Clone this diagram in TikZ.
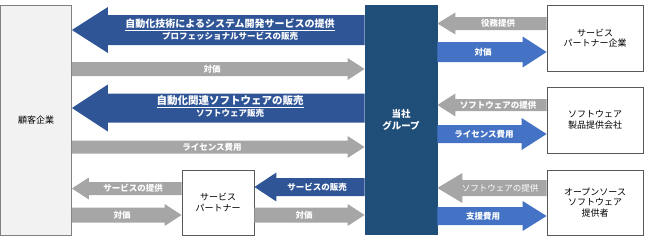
\documentclass[tikz,border=0pt]{standalone}
\usepackage{fontspec}
\newfontfamily\jpfont{Noto Sans CJK JP}
\usetikzlibrary{calc}
\definecolor{navyblock}{RGB}{31,78,121}
\definecolor{darkarrow}{RGB}{47,85,151}
\definecolor{lightarrow}{RGB}{68,114,196}
\definecolor{grayarrow}{RGB}{166,166,166}
\definecolor{boxline}{RGB}{89,89,89}
\definecolor{custfill}{RGB}{242,242,242}

% horizontal block arrow: style, from, to, y (from top), half body, half head, head length
\newcommand{\blockarrow}[7]{%
  \fill[#1] let \p1=(#2), \p2=(#3), \n1={sign(\x2-\x1)*#7} in
    (\x1,{-(#4-#5)*1pt}) -- ({\x2-(\n1)},{-(#4-#5)*1pt}) -- ({\x2-(\n1)},{-(#4-#6)*1pt})
    -- (\x2,{-#4*1pt}) -- ({\x2-(\n1)},{-(#4+#6)*1pt}) -- ({\x2-(\n1)},{-(#4+#5)*1pt})
    -- (\x1,{-(#4+#5)*1pt}) -- cycle;}

\begin{document}
\begin{tikzpicture}[x=1pt, y=1pt,
    box/.style={draw=boxline, line width=0.8pt, fill=white, align=center, inner sep=0pt,
      font=\jpfont\fontsize{9}{10.5}\selectfont},
    lbl/.style={text=white, inner sep=0pt, font=\jpfont\bfseries\fontsize{8.5}{9}\selectfont},
    titlelbl/.style={lbl, font=\jpfont\bfseries\fontsize{10}{11}\selectfont},
    grayblock/.style={fill=grayarrow},
    darkblock/.style={fill=darkarrow},
    lightblock/.style={fill=lightarrow}
    ]
    \useasboundingbox (0,0) rectangle (645,-241);

    % parties
    \node[box, fill=custfill, draw=gray, minimum width=71, minimum height=230] (kokyaku) at (36,-120) {顧客企業};
    \node[box, fill=navyblock, draw=navyblock, text=white, font=\jpfont\bfseries\fontsize{9.5}{12}\selectfont,
      minimum width=72, minimum height=229] (tosha) at (401,-119.5) {当社\\グループ};
    \node[box, minimum width=96, minimum height=66] (svcfirm) at (595,-38) {サービス\\パートナー企業};
    \node[box, minimum width=96, minimum height=66] (swfirm) at (595,-120) {ソフトウェア\\製品提供会社};
    \node[box, minimum width=96, minimum height=65] (ossfirm) at (595,-202.5) {オープンソース\\ソフトウェア\\提供者};
    \node[box, minimum width=72, minimum height=65] (partner) at (218,-202.5) {サービス\\パートナー};

    % flows with the customers
    \blockarrow{darkblock}{tosha.west}{kokyaku.east}{30}{15}{23}{36}
    \blockarrow{grayblock}{kokyaku.east}{tosha.west}{69}{7}{11}{17}
    \blockarrow{darkblock}{tosha.west}{kokyaku.east}{108}{14.5}{23.5}{36}
    \blockarrow{grayblock}{kokyaku.east}{tosha.west}{147}{6.5}{11}{17}
    \blockarrow{grayblock}{partner.west}{kokyaku.east}{188.5}{6.5}{11}{17}
    \blockarrow{grayblock}{kokyaku.east}{partner.west}{215}{7.5}{11}{17}
    \blockarrow{darkblock}{tosha.west}{partner.east}{187}{9}{14.5}{22}
    \blockarrow{grayblock}{partner.east}{tosha.west}{215}{7.5}{11}{17}

    % flows with the suppliers
    \blockarrow{grayblock}{svcfirm.west}{tosha.east}{23.5}{6.5}{11}{18}
    \blockarrow{lightblock}{tosha.east}{svcfirm.west}{52}{10}{15.5}{24}
    \blockarrow{grayblock}{swfirm.west}{tosha.east}{105}{6}{11.5}{18}
    \blockarrow{lightblock}{tosha.east}{swfirm.west}{134}{9}{16}{25}
    \blockarrow{grayblock}{ossfirm.west}{tosha.east}{188}{8}{15}{25}
    \blockarrow{lightblock}{tosha.east}{ossfirm.west}{216}{9}{15}{24}

    % labels
    \node[titlelbl] (svctitle) at (230,-25) {\underline{自動化技術によるシステム開発サービスの提供}};
    \node[lbl] (svcsub) at (230,-36.5) {プロフェッショナルサービスの販売};
    \node[lbl] (paya) at (212,-69) {対価};
    \node[titlelbl, font=\jpfont\bfseries\fontsize{10.5}{11}\selectfont] (swtitle) at (230,-101.5) {\underline{自動化関連ソフトウェアの販売}};
    \node[lbl] (swsub) at (230,-113) {ソフトウェア販売};
    \node[lbl] (licfee) at (212,-147) {ライセンス費用};
    \node[lbl] (svcgive) at (133,-188) {サービスの提供};
    \node[lbl] (payb) at (122,-215) {対価};
    \node[lbl] (svcsell) at (317,-187) {サービスの販売};
    \node[lbl] (payc) at (304,-215) {対価};
    \node[lbl] (labor) at (498,-23.5) {役務提供};
    \node[lbl] (payd) at (483,-52) {対価};
    \node[lbl] (swgive) at (498,-105) {ソフトウェアの提供};
    \node[lbl] (licfeeb) at (484,-134) {ライセンス費用};
    \node[lbl, font=\jpfont\fontsize{8.5}{9}\selectfont] (ossgive) at (500,-188) {ソフトウェアの提供};
    \node[lbl] (support) at (483,-216) {支援費用};
\end{tikzpicture}
\end{document}
